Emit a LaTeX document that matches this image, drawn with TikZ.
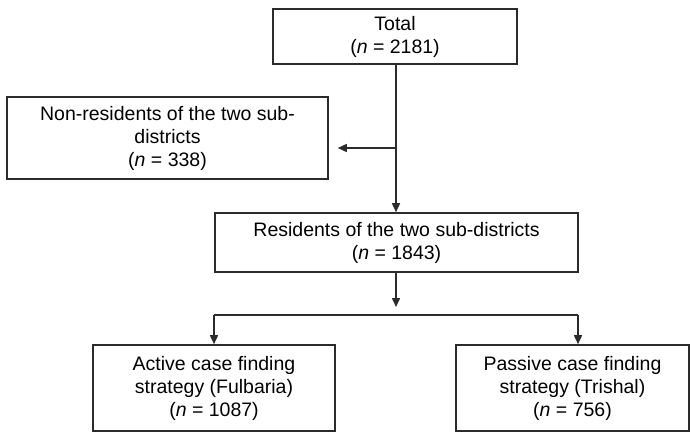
\documentclass[tikz,border=0pt]{standalone}
\usepackage{fontspec}
\setmainfont{Liberation Sans}
\usepackage{tikz}
\usepackage{xcolor}
\usetikzlibrary{positioning,arrows.meta}

\definecolor{boxline}{HTML}{2b2b2b}

\begin{document}
\begin{tikzpicture}[x=1pt, y=-1pt, >={Triangle[length=9pt,width=8pt]},
                    link/.style={draw=boxline, line width=1.5pt},
                    flowbox/.style={draw=boxline, line width=1.6pt, rectangle, align=center,
                                    inner sep=0pt, font=\fontsize{19.5}{23}\selectfont}]
                    \useasboundingbox (0,0) rectangle (691,432);

                    \node[flowbox, minimum width=244pt, minimum height=55pt] (total) at (395,36.5)
                        {Total\\(\textit{n} = 2181)};
                    \node[flowbox, minimum width=321pt, minimum height=82pt] (nonres) at (167.5,138)
                        {Non-residents of the two sub-\\districts\\(\textit{n} = 338)};
                    \node[flowbox, minimum width=363pt, minimum height=59pt] (res) at (396.5,242.5)
                        {Residents of the two sub-districts\\(\textit{n} = 1843)};
                    \node[flowbox, minimum width=242pt, minimum height=86pt] (active) at (214,388)
                        {Active case finding\\strategy (Fulbaria)\\(\textit{n} = 1087)};
                    \node[flowbox, minimum width=233pt, minimum height=86pt] (passive) at (572.5,388)
                        {Passive case finding\\strategy (Trishal)\\(\textit{n} = 756)};

                    \coordinate (split) at (396,148);
                    \coordinate (gap) at (396,307);
                    \coordinate (bl) at (214,315);
                    \coordinate (br) at (578,315);

                    \draw[link, ->] (total.south -| split) -- (res.north -| split);
                    \draw[link, ->, shorten >=9pt] (split) -- (nonres.east |- split);
                    \draw[link, ->] (res.south -| gap) -- (gap);
                    \draw[link] (bl) -- (br);
                    \draw[link, ->] (bl) -- (active.north -| bl);
                    \draw[link, ->] (br) -- (passive.north -| br);
                \end{tikzpicture}
\end{document}
